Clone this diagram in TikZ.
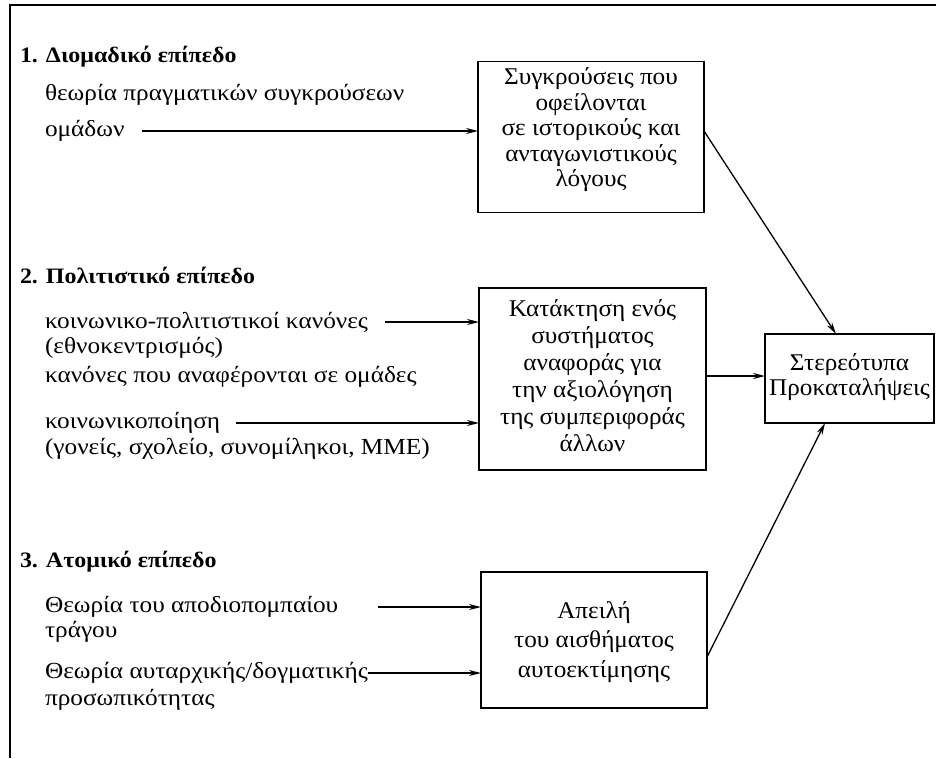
\documentclass[tikz,border=0pt]{standalone}
\usepackage{fontspec}
\setmainfont{Liberation Serif}
\newfontfamily\itemfont[FakeStretch=1.1]{Liberation Serif}
\newfontfamily\boxfont[FakeStretch=1.05]{Liberation Serif}
\newfontfamily\headfont[FakeStretch=1.09]{Liberation Serif}
\usetikzlibrary{arrows.meta}
\begin{document}
\begin{tikzpicture}[x=1pt,y=-1pt,
  every node/.style={inner sep=0pt,outer sep=0pt},
  txt/.style={anchor=west,font=\itemfont\fontsize{23}{26}\selectfont},
  head/.style={anchor=west,font=\headfont\fontsize{22}{26}\selectfont\bfseries},
  box/.style={draw,line width=1.1pt},
  boxtxt/.style={align=center},
  arr/.style={line width=1.3pt,-{Stealth[length=12pt,width=6pt]}}]
\useasboundingbox (0,0) rectangle (936,758);
\draw[line width=2pt] (10,758) -- (10,5) -- (936,5);
% boxes
\node[box,minimum width=226pt,minimum height=151pt] (b1) at (591,137) {};
\node[boxtxt,font=\boxfont\fontsize{24}{25.5}\selectfont] (b1t) at ([yshift=7pt]b1.center)
  {Συγκρούσεις που\\οφείλονται\\σε ιστορικούς και\\ανταγωνιστικούς\\λόγους};
\node[box,minimum width=227pt,minimum height=182pt] (b2) at (592.5,379) {};
\node[boxtxt,font=\boxfont\fontsize{24}{27}\selectfont] (b2t) at ([yshift=3pt]b2.center)
  {Κατάκτηση ενός\\συστήματος\\αναφοράς για\\την αξιολόγηση\\της συμπεριφοράς\\άλλων};
\node[box,minimum width=169pt,minimum height=89pt] (b4) at (849.5,378.5) {};
\node[boxtxt,font=\boxfont\fontsize{24}{25}\selectfont] (b4t) at ([yshift=1pt]b4.center)
  {Στερεότυπα\\Προκαταλήψεις};
\node[box,minimum width=226pt,minimum height=136pt] (b3) at (594,640) {};
\node[boxtxt,font=\boxfont\fontsize{24}{29.5}\selectfont] (b3t) at ([yshift=-2pt]b3.center)
  {Απειλή\\του αισθήματος\\αυτοεκτίμησης};
% left texts
\node[head] (h1) at (20,57) {1. Διομαδικό επίπεδο};
\node[txt] (t1a) at (45,95) {θεωρία πραγματικών συγκρούσεων};
\node[txt] (t1b) at (45,131) {ομάδων};
\node[head] (h2) at (20,275) {2. Πολιτιστικό επίπεδο};
\node[txt] (t2a) at (45,322) {κοινωνικο-πολιτιστικοί κανόνες};
\node[txt] (t2b) at (45,348) {(εθνοκεντρισμός)};
\node[txt] (t2c) at (45,377) {κανόνες που αναφέρονται σε ομάδες};
\node[txt] (t2d) at (45,423) {κοινωνικοποίηση};
\node[txt] (t2e) at (45,449) {(γονείς, σχολείο, συνομίληκοι, ΜΜΕ)};
\node[head] (h3) at (20,562) {3. Ατομικό επίπεδο};
\node[txt] (t3a) at (45,607) {Θεωρία του αποδιοπομπαίου};
\node[txt] (t3b) at (45,632) {τράγου};
\node[txt] (t3c) at (45,673) {Θεωρία αυταρχικής/δογματικής};
\node[txt] (t3d) at (45,700) {προσωπικότητας};
% arrow starts
\coordinate (s1) at (142,131);
\coordinate (s2) at (385,322);
\coordinate (s3) at (236,423);
\coordinate (s4) at (378,607);
\draw[arr] (s1) -- (s1 -| b1.west);
\draw[arr] (s2) -- (s2 -| b2.west);
\draw[arr] (s3) -- (s3 -| b2.west);
\draw[arr] (s4) -- (s4 -| b3.west);
\draw[arr] (t3c.east) -- (t3c.east -| b3.west);
% to stereotypes
\coordinate (e1) at (836,334);
\coordinate (e3) at (825,423);
\draw[arr] ([yshift=6pt]b1.east) -- (e1);
\draw[arr] ([yshift=3pt]b2.east) -- ([yshift=3pt]b2.east -| b4.west);
\draw[arr] ([yshift=-17pt]b3.east) -- (e3);
\end{tikzpicture}
\end{document}
